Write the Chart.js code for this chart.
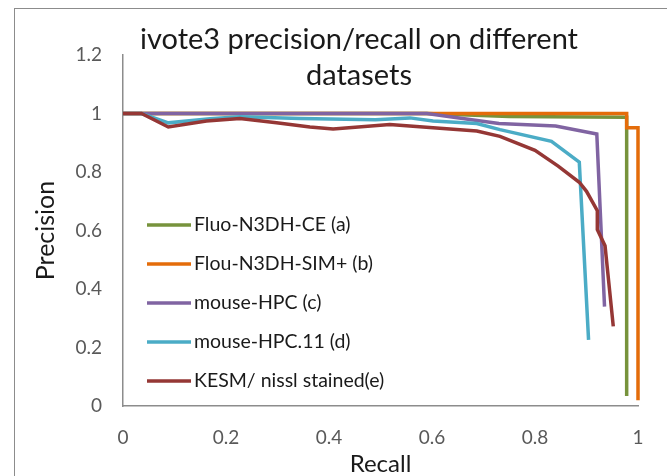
<!DOCTYPE html>
<html>
<head>
<meta charset="utf-8">
<script src="https://cdn.jsdelivr.net/npm/chart.js@4.4.0/dist/chart.umd.min.js"></script>
<style>
  html, body { margin: 0; padding: 0; background: #fff; overflow: hidden; }
  #wrap { position: absolute; left: 0; top: 0; width: 720px; height: 476px; }
</style>
</head>
<body>
<div id="wrap"><canvas id="chart"></canvas></div>
<script>
var titleLines = ['ivote3 precision/recall on different', 'datasets'];
var seriesNames = ['Fluo-N3DH-CE (a)', 'Flou-N3DH-SIM+ (b)', 'mouse-HPC (c)', 'mouse-HPC.11 (d)', 'KESM/ nissl stained(e)'];
var seriesColors = ['#77933C', '#E46C0A', '#8064A2', '#4BACC6', '#953735'];

// recall (x) / precision (y)
var ceRecall = [0, 0.59, 0.75, 0.978, 0.978];
var cePrec   = [1, 1, 0.99, 0.987, 0.034];

var simRecall = [0, 0.978, 0.978, 1.0, 1.0];
var simPrec   = [1, 1, 0.951, 0.951, 0.02];

var hpcRecall = [0, 0.59, 0.67, 0.73, 0.84, 0.92, 0.935];
var hpcPrec   = [1, 1, 0.98, 0.966, 0.957, 0.93, 0.34];

var hpc11Recall = [0, 0.036, 0.088, 0.169, 0.227, 0.344, 0.49, 0.557, 0.602, 0.687, 0.732, 0.832, 0.886, 0.904];
var hpc11Prec   = [1, 1, 0.968, 0.982, 0.989, 0.983, 0.979, 0.985, 0.974, 0.966, 0.945, 0.905, 0.834, 0.226];

var kesmRecall = [0, 0.036, 0.088, 0.162, 0.227, 0.298, 0.363, 0.408, 0.518, 0.602, 0.687, 0.732, 0.80, 0.845, 0.886, 0.90, 0.921, 0.921, 0.936, 0.952];
var kesmPrec   = [1, 1, 0.954, 0.974, 0.983, 0.968, 0.954, 0.947, 0.962, 0.951, 0.94, 0.922, 0.874, 0.82, 0.765, 0.734, 0.668, 0.603, 0.548, 0.272];

var yTickLabels = ['0', '0.2', '0.4', '0.6', '0.8', '1', '1.2'];
var xTickLabels = ['0', '0.2', '0.4', '0.6', '0.8', '1'];

var FONT = 'Lato, "Open Sans", sans-serif';

function pts(xs, ys) {
  var out = [];
  for (var i = 0; i < xs.length; i++) out.push({x: xs[i], y: ys[i]});
  return out;
}

var allX = [ceRecall, simRecall, hpcRecall, hpc11Recall, kesmRecall];
var allY = [cePrec, simPrec, hpcPrec, hpc11Prec, kesmPrec];
var datasets = [];
for (var s = 0; s < seriesNames.length; s++) {
  datasets.push({
    label: seriesNames[s],
    data: pts(allX[s], allY[s]),
    borderColor: seriesColors[s],
    backgroundColor: seriesColors[s],
    borderWidth: 3.5,
    pointRadius: 0,
    showLine: true,
    tension: 0,
    clip: 6,
    order: seriesNames.length - s
  });
}

// frame, title and legend drawn on the canvas
var decor = {
  id: 'decor',
  beforeDraw: function(chart) {
    var ctx = chart.ctx;
    ctx.save();
    ctx.fillStyle = '#fff';
    ctx.fillRect(0, 0, chart.width, chart.height);
    ctx.strokeStyle = '#8c8c8c';
    ctx.lineWidth = 1;
    ctx.strokeRect(14.5, 8.5, 692, 500);
    ctx.restore();
  },
  afterDraw: function(chart) {
    var ctx = chart.ctx;
    ctx.save();
    ctx.fillStyle = '#1a1a1a';
    ctx.font = '29px ' + FONT;
    ctx.textAlign = 'center';
    ctx.textBaseline = 'middle';
    ctx.fillText(titleLines[0], 359, 40);
    ctx.fillText(titleLines[1], 359, 76);

    ctx.font = '19.5px ' + FONT;
    ctx.textAlign = 'left';
    chart.data.datasets.forEach(function(ds, i) {
      var y = 225 + i * 39;
      ctx.strokeStyle = ds.borderColor;
      ctx.lineWidth = 3.5;
      ctx.beginPath();
      ctx.moveTo(147, y);
      ctx.lineTo(191, y);
      ctx.stroke();
      ctx.fillStyle = '#1a1a1a';
      ctx.fillText(ds.label, 194, y);
    });
    ctx.restore();
  }
};

new Chart(document.getElementById('chart'), {
  type: 'scatter',
  data: { datasets: datasets },
  plugins: [decor],
  options: {
    responsive: true,
    maintainAspectRatio: false,
    animation: false,
    layout: { padding: { left: 0, top: 55, right: 82, bottom: 0 } },
    plugins: {
      legend: { display: false },
      title: { display: false },
      tooltip: { enabled: false }
    },
    scales: {
      x: {
        type: 'linear',
        min: 0, max: 1,
        grid: { display: false, drawTicks: false },
        border: { display: true, color: '#8c8c8c', width: 1.5 },
        ticks: {
          stepSize: 0.2, padding: 20, color: '#595959',
          font: { family: FONT, size: 19 },
          callback: function(v, i) { return xTickLabels[i]; }
        },
        title: { display: true, text: 'Recall', color: '#1a1a1a',
          font: { family: FONT, size: 24, lineHeight: 1 }, padding: { top: 0, bottom: 0 } },
        afterFit: function(scale) { scale.height = 70; }
      },
      y: {
        type: 'linear',
        min: 0, max: 1.2,
        grid: { display: false, drawTicks: false },
        border: { display: true, color: '#8c8c8c', width: 1.5 },
        ticks: {
          stepSize: 0.2, padding: 21, color: '#595959',
          font: { family: FONT, size: 19 },
          callback: function(v, i) { return yTickLabels[i]; }
        },
        title: { display: true, text: 'Precision', color: '#1a1a1a',
          font: { family: FONT, size: 25, lineHeight: 1 }, padding: { top: 33, bottom: 0 } },
        afterFit: function(scale) { scale.width = 123; }
      }
    }
  }
});
</script>
</body>
</html>
